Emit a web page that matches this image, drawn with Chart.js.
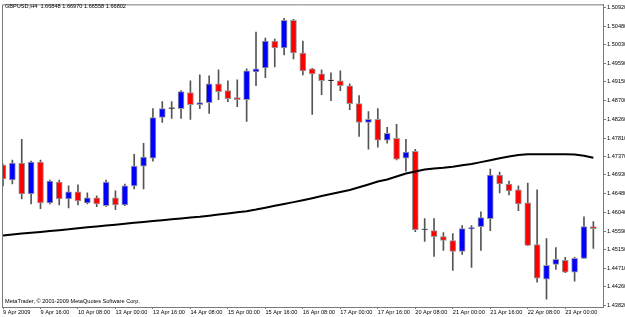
<!DOCTYPE html>
<html>
<head>
<meta charset="utf-8">
<script src="https://cdn.jsdelivr.net/npm/chart.js@4.4.1/dist/chart.umd.min.js"></script>
<style>
    body { margin: 0; background: #fff; }
    #wrap { width: 625px; height: 317px; position: relative; }
</style>
</head>
<body>
<div id="wrap"><canvas id="myChart"></canvas></div>
<script>
//region Данные
const symbolTitle = 'GBPUSD,H4  1.66848 1.66970 1.66558 1.66802';
const credit = 'MetaTrader, \u00a9 2001-2009 MetaQuotes Software Corp.';

// подписи по оси X (каждый 4-й бар)
const xTickLabels = ['9 Apr 2009', '9 Apr 16:00', '10 Apr 08:00', '13 Apr 00:00', '13 Apr 16:00', '14 Apr 08:00',
    '15 Apr 00:00', '15 Apr 16:00', '16 Apr 08:00', '17 Apr 00:00', '17 Apr 16:00', '20 Apr 08:00',
    '21 Apr 00:00', '21 Apr 16:00', '22 Apr 08:00', '23 Apr 00:00'];

const yTicks = [1.50920, 1.50480, 1.50030, 1.49590, 1.49150, 1.48700, 1.48260, 1.47810, 1.47370,
    1.46930, 1.46480, 1.46040, 1.45590, 1.45150, 1.44710, 1.44260, 1.43820];

const opens = [1.47164, 1.46809, 1.47211, 1.46478, 1.47235, 1.46265, 1.46762, 1.46359, 1.46525, 1.46265,
    1.46383, 1.46194, 1.46383, 1.46217, 1.46667, 1.47140, 1.47330, 1.48300, 1.48513, 1.48513,
    1.48892, 1.48608, 1.48655, 1.49105, 1.48939, 1.48773, 1.48726, 1.49389, 1.49484, 1.50122,
    1.49957, 1.50620, 1.49838, 1.49460, 1.49341, 1.49176, 1.49176, 1.49057, 1.48631, 1.48182,
    1.48253, 1.47756, 1.47803, 1.47330, 1.47495, 1.45626, 1.45602, 1.45460, 1.45365, 1.45105,
    1.45649, 1.45697, 1.45886, 1.46927, 1.46714, 1.46572, 1.46265, 1.45271, 1.44442, 1.44797,
    1.44892, 1.44608, 1.44939, 1.45697];
const highs = [1.47188, 1.47282, 1.47779, 1.47259, 1.47282, 1.46809, 1.46809, 1.46667, 1.46691, 1.46501,
    1.46430, 1.46809, 1.46549, 1.46714, 1.47424, 1.47685, 1.48513, 1.48679, 1.48679, 1.48939,
    1.49176, 1.49318, 1.49294, 1.49436, 1.49176, 1.49199, 1.49460, 1.50336, 1.50194, 1.50170,
    1.50667, 1.50640, 1.50122, 1.49470, 1.49436, 1.49365, 1.49412, 1.49105, 1.48821, 1.48442,
    1.48513, 1.48063, 1.48134, 1.47779, 1.47543, 1.45886, 1.45886, 1.45555, 1.45531, 1.45720,
    1.45720, 1.46052, 1.47069, 1.46998, 1.46785, 1.46667, 1.46738, 1.46572, 1.45413, 1.45200,
    1.44963, 1.44963, 1.45933, 1.45815];
const lows = [1.46667, 1.46714, 1.46359, 1.46241, 1.46123, 1.46241, 1.46217, 1.46146, 1.46217, 1.46241,
    1.46170, 1.46180, 1.46099, 1.46194, 1.46596, 1.46596, 1.47259, 1.48182, 1.48276, 1.48276,
    1.48253, 1.48513, 1.48395, 1.48726, 1.48679, 1.48560, 1.48205, 1.49057, 1.49247, 1.49507,
    1.49791, 1.49696, 1.49318, 1.48371, 1.48844, 1.48702, 1.48939, 1.48489, 1.47850, 1.47543,
    1.47590, 1.47685, 1.47290, 1.47022, 1.45578, 1.45342, 1.44987, 1.45129, 1.44655, 1.45034,
    1.44726, 1.45129, 1.45602, 1.46501, 1.46454, 1.46075, 1.45240, 1.44371, 1.43969, 1.44679,
    1.44600, 1.44395, 1.44930, 1.45176];
const closes = [1.46833, 1.47211, 1.46478, 1.47235, 1.46265, 1.46785, 1.46359, 1.46525, 1.46312, 1.46383,
    1.46241, 1.46762, 1.46217, 1.46667, 1.47140, 1.47353, 1.48300, 1.48513, 1.48515, 1.48915,
    1.48608, 1.48655, 1.49105, 1.48915, 1.48750, 1.48726, 1.49412, 1.49460, 1.50122, 1.49957,
    1.50620, 1.49838, 1.49412, 1.49341, 1.49176, 1.49174, 1.49057, 1.48631, 1.48182, 1.48253,
    1.47756, 1.47921, 1.47306, 1.47472, 1.45626, 1.45622, 1.45460, 1.45365, 1.45105, 1.45649,
    1.45673, 1.45910, 1.46927, 1.46714, 1.46549, 1.46241, 1.45247, 1.44466, 1.44774, 1.44916,
    1.44608, 1.44939, 1.45697, 1.45649];
// скользящая средняя
const ma = [1.45484, 1.45507, 1.45531, 1.45548, 1.45569, 1.45590, 1.45612, 1.45633, 1.45659, 1.45680,
    1.45702, 1.45723, 1.45744, 1.45765, 1.45787, 1.45808, 1.45829, 1.45848, 1.45870, 1.45891,
    1.45912, 1.45933, 1.45959, 1.45986, 1.46012, 1.46040, 1.46066, 1.46104, 1.46149, 1.46194,
    1.46236, 1.46281, 1.46326, 1.46376, 1.46426, 1.46473, 1.46523, 1.46572, 1.46636, 1.46703,
    1.46771, 1.46821, 1.46892, 1.46963, 1.47010, 1.47058, 1.47081, 1.47100, 1.47126, 1.47159,
    1.47193, 1.47235, 1.47282, 1.47330, 1.47368, 1.47406, 1.47424, 1.47424, 1.47424, 1.47424,
    1.47424, 1.47416, 1.47389, 1.47342];
//endregion

//region Подготовка датасетов
let bodies = [];
let wicks = [];
let maLine = [];
let bodyColors = [];
for (let i = 0; i < opens.length; i++) {
    bodies.push({x: i, y: [opens[i], closes[i]]});
    wicks.push({x: i, y: [lows[i], highs[i]]});
    maLine.push({x: i, y: ma[i]});
    let d = closes[i] - opens[i];
    if (Math.abs(d) < 0.00005) bodyColors.push('#000000');
    else bodyColors.push(d > 0 ? '#0000ff' : '#ff0000');
}
//endregion

//region Текст и рамка
const frame = {
    id: 'frame',
    afterDraw(chart) {
        const c = chart.ctx, a = chart.chartArea;
        c.save();
        c.strokeStyle = '#7a7a7a';
        c.lineWidth = 1;
        c.beginPath();
        c.moveTo(a.left + 0.5, a.bottom);
        c.lineTo(a.left + 0.5, a.top + 0.5);
        c.lineTo(a.right, a.top + 0.5);
        c.stroke();
        c.fillStyle = '#000';
        c.font = '5.6px "Liberation Sans"';
        c.textBaseline = 'middle';
        c.textAlign = 'left';
        c.fillText(symbolTitle, a.left + 3, 6.5);
        c.fillText(credit, a.left + 3, 301);
        c.restore();
    }
};
//endregion

Chart.defaults.font.family = '"Liberation Sans", Arial, sans-serif';
Chart.defaults.font.size = 5.6;
Chart.defaults.color = '#000';

const ctx = document.getElementById('myChart');
let chart = new Chart(ctx, {
    type: 'bar',
    data: {
        datasets: [{
            type: 'line',
            data: maLine,
            borderColor: '#000',
            borderWidth: 2,
            pointRadius: 0,
            tension: 0,
            order: 0
        }, {
            data: bodies,
            backgroundColor: bodyColors,
            borderColor: '#9a9a9a',
            borderWidth: 1,
            borderSkipped: false,
            barThickness: 6,
            minBarLength: 1,
            grouped: false,
            order: 1
        }, {
            data: wicks,
            backgroundColor: '#555',
            borderWidth: 0,
            barThickness: 1,
            grouped: false,
            order: 2
        }]
    },
    options: {
        responsive: true,
        maintainAspectRatio: false,
        animation: false,
        layout: { padding: { left: 2, top: 2, right: 0, bottom: 0 } },
        plugins: { legend: { display: false }, tooltip: { enabled: false } },
        scales: {
            x: {
                type: 'linear',
                offset: false,
                min: -0.107,
                max: 64.03,
                afterBuildTicks: (s) => { s.ticks = xTickLabels.map((t, i) => ({value: i * 4})); },
                afterFit: (s) => { s.height = 10; },
                grid: { display: true, drawOnChartArea: false, offset: false, tickLength: 2, color: '#7a7a7a' },
                border: { display: true, color: '#7a7a7a' },
                ticks: {
                    align: 'start',
                    maxRotation: 0,
                    autoSkip: false,
                    padding: 0,
                    callback: (v) => xTickLabels[v / 4]
                }
            },
            y: {
                position: 'right',
                min: 1.43780,
                max: 1.50998,
                afterBuildTicks: (s) => { s.ticks = yTicks.map(v => ({value: v})); },
                afterFit: (s) => { s.width = 22; },
                grid: { display: true, drawOnChartArea: false, tickLength: 3, color: '#7a7a7a' },
                border: { display: true, color: '#7a7a7a' },
                ticks: {
                    padding: 1,
                    autoSkip: false,
                    callback: (v) => v.toFixed(5)
                }
            }
        }
    },
    plugins: [frame]
});
</script>
</body>
</html>
